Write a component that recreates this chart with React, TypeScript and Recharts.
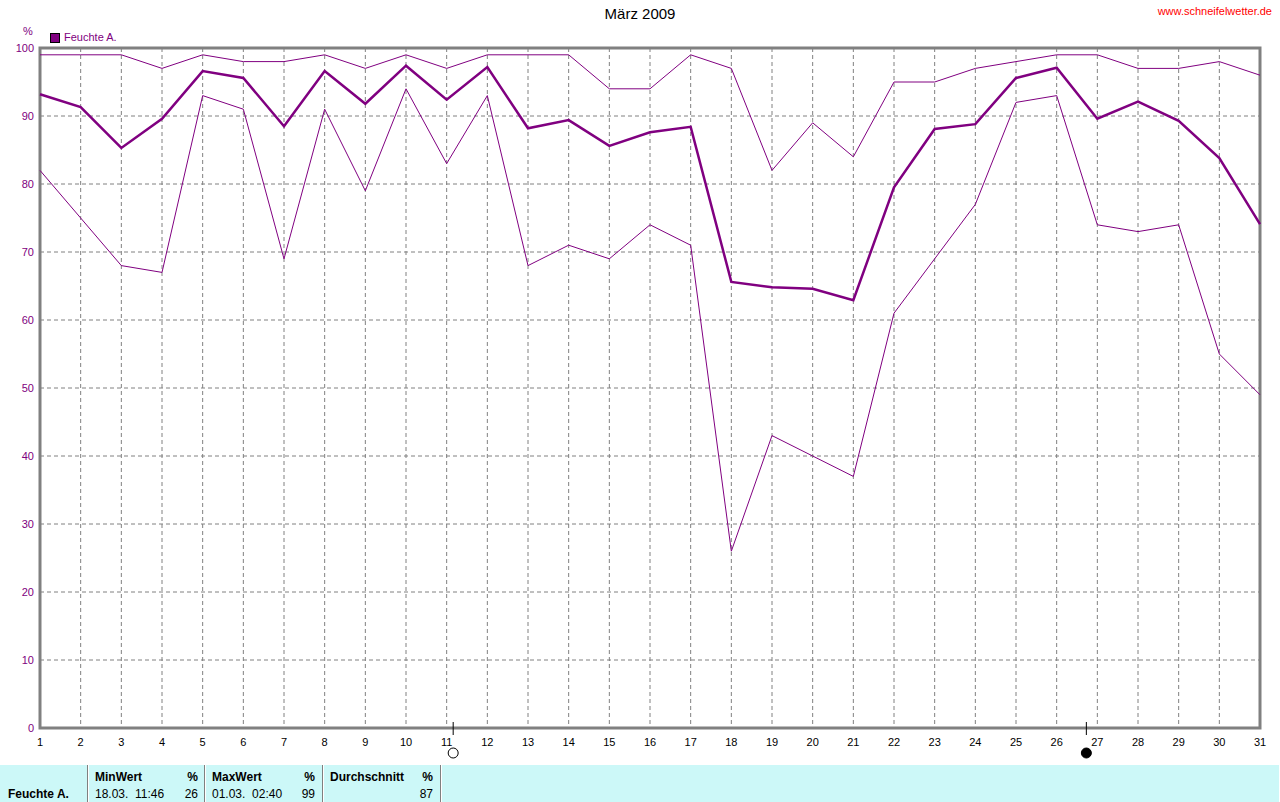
import React from 'react';
import {
  LineChart, Line, XAxis, YAxis, CartesianGrid, ReferenceArea, ReferenceDot,
} from 'recharts';

// Feuchte A. (relative humidity), März 2009 – daily values
const days = [1, 2, 3, 4, 5, 6, 7, 8, 9, 10, 11, 12, 13, 14, 15, 16, 17, 18, 19, 20, 21, 22, 23, 24, 25, 26, 27, 28, 29, 30, 31];
const maxValues = [99, 99, 99, 97, 99, 98, 98, 99, 97, 99, 97, 99, 99, 99, 94, 94, 99, 97, 82, 89, 84, 95, 95, 97, 98, 99, 99, 97, 97, 98, 96];
const meanValues = [93.2, 91.3, 85.3, 89.6, 96.6, 95.6, 88.5, 96.6, 91.8, 97.4, 92.4, 97.2, 88.2, 89.4, 85.6, 87.6, 88.4, 65.6, 64.8, 64.6, 62.9, 79.5, 88.1, 88.8, 95.6, 97.1, 89.6, 92.1, 89.3, 83.8, 74.1];
const minValues = [82, 75, 68, 67, 93, 91, 69, 91, 79, 94, 83, 93, 68, 71, 69, 74, 71, 26, 43, 40, 37, 61, 69, 77, 92, 93, 74, 73, 74, 55, 49];
const yTicks = [0, 10, 20, 30, 40, 50, 60, 70, 80, 90, 100];

// moon phases (day position): full moon, last quarter-ish
const moonDays = [11.16, 26.73];
const moonFilled = [false, true];

// summary table
const statHeaders = ['MinWert', 'MaxWert', 'Durchschnitt'];
const statTimes = ['18.03.  11:46', '01.03.  02:40', ''];
const statValues = ['26', '99', '87'];

const PURPLE = '#800080';
const GRAY = '#808080';
const FONT = '"Liberation Sans", Arial, sans-serif';

const data = days.map((d, i) => ({
  day: d,
  max: maxValues[i],
  mean: meanValues[i],
  min: minValues[i],
}));

const MoonMark = (filled: boolean) => (props: any) => {
  const { cx, cy } = props;
  return (
    <g>
      <line x1={cx} y1={cy - 6} x2={cx} y2={cy + 7} stroke="#000" strokeWidth={1} />
      <circle cx={cx} cy={cy + 25} r={5} fill={filled ? '#000' : '#fff'} stroke="#000" strokeWidth={1} />
    </g>
  );
};

export default function App() {
  const colLeft = [88, 205, 323];
  return (
    <div style={{ position: 'absolute', left: 0, top: 0, width: 1280, height: 802, background: '#fff', fontFamily: FONT, overflow: 'hidden' }}>
      <div style={{ position: 'absolute', left: 0, width: 1280, top: 5, textAlign: 'center', fontSize: 15, color: '#000' }}>
        März 2009
      </div>
      <div style={{ position: 'absolute', right: 8, top: 5, fontSize: 11, color: '#ff0000' }}>
        www.schneifelwetter.de
      </div>
      <div style={{ position: 'absolute', left: 23, top: 25, fontSize: 11, color: PURPLE }}>%</div>
      <div style={{ position: 'absolute', left: 50, top: 33, width: 8, height: 8, background: PURPLE, border: '1px solid #000' }} />
      <div style={{ position: 'absolute', left: 64, top: 31, fontSize: 11, color: PURPLE }}>Feuchte A.</div>

      <div style={{ position: 'absolute', left: 0, top: 0 }}>
        <LineChart width={1280} height={765} data={data} margin={{ top: 48, right: 20, bottom: 7, left: 0 }}>
          <CartesianGrid stroke={GRAY} strokeDasharray="4 3" strokeWidth={1} />
          <XAxis
            dataKey="day"
            type="number"
            domain={[1, 31]}
            ticks={days}
            interval={0}
            height={30}
            axisLine={false}
            tickLine={false}
            tick={{ fill: '#000', fontSize: 11, fontFamily: FONT }}
            dy={2}
          />
          <YAxis
            type="number"
            domain={[0, 100]}
            ticks={yTicks}
            interval={0}
            width={40}
            axisLine={false}
            tickLine={false}
            tick={{ fill: PURPLE, fontSize: 11, fontFamily: FONT }}
            dx={2}
          />
          <ReferenceArea x1={1} x2={31} y1={0} y2={100} fill="none" stroke={GRAY} strokeWidth={3} fillOpacity={0} />
          <Line type="linear" dataKey="max" stroke={PURPLE} strokeWidth={1} dot={false} isAnimationActive={false} />
          <Line type="linear" dataKey="min" stroke={PURPLE} strokeWidth={1} dot={false} isAnimationActive={false} />
          <Line type="linear" dataKey="mean" stroke={PURPLE} strokeWidth={2.5} dot={false} isAnimationActive={false} />
          {moonDays.map((d, i) => (
            <ReferenceDot key={d} x={d} y={0} ifOverflow="visible" shape={MoonMark(moonFilled[i])} />
          ))}
        </LineChart>
      </div>

      <div style={{ position: 'absolute', left: 0, top: 765, width: 1279, height: 37, background: '#ccf8f8', fontSize: 12, color: '#000' }}>
        <div style={{ position: 'absolute', left: 8, top: 22, fontWeight: 'bold' }}>Feuchte A.</div>
        {[88, 205, 323, 441].map((x) => (
          <div key={x} style={{ position: 'absolute', left: x - 1, top: 0, width: 1, height: 37, background: GRAY, borderRight: '1px solid #fff' }} />
        ))}
        {statHeaders.map((h, i) => (
          <React.Fragment key={h}>
            <div style={{ position: 'absolute', left: colLeft[i] + 7, top: 5, fontWeight: 'bold' }}>{h}</div>
            <div style={{ position: 'absolute', left: colLeft[i] + 90, width: 20, top: 5, fontWeight: 'bold', textAlign: 'right' }}>%</div>
            <div style={{ position: 'absolute', left: colLeft[i] + 7, top: 22, whiteSpace: 'pre' }}>{statTimes[i]}</div>
            <div style={{ position: 'absolute', left: colLeft[i] + 80, width: 30, top: 22, textAlign: 'right' }}>{statValues[i]}</div>
          </React.Fragment>
        ))}
      </div>
    </div>
  );
}
